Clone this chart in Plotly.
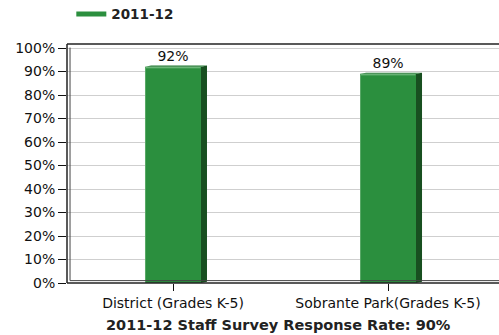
import plotly.graph_objects as go

categories = ["District (Grades K-5)", "Sobrante Park(Grades K-5)"]
values = [92, 89]
series_name = "2011-12"
title_text = "2011-12 Staff Survey Response Rate: 90%"
tick_vals = [0, 10, 20, 30, 40, 50, 60, 70, 80, 90, 100]
tick_text = [f"{v}%" for v in tick_vals]

FRONT = "#2b8f3e"
SIDE = "#184f20"
FONT = "DejaVu Sans"

fig = go.Figure()
fig.add_trace(go.Bar(
    x=[0, 1], y=values, width=0.26, marker=dict(color=FRONT, line=dict(width=0)),
    text=[f"{v}%" for v in values], textposition="outside",
    textfont=dict(family=FONT, size=14, color="#111"), cliponaxis=False,
    showlegend=False, hoverinfo="skip"))
fig.add_trace(go.Scatter(x=[None], y=[None], mode="lines", name=series_name,
                         line=dict(color=FRONT, width=5)))

# 3D side faces of bars
dx = 0.028
dy = 1.7
shapes = []
for i, v in enumerate(values):
    x1 = i + 0.13
    shapes.append(dict(type="path", xref="x", yref="y",
                       path=f"M {x1},0 L {x1+dx},{dy*0.3} L {x1+dx},{v+dy*0.3} L {x1},{v} Z",
                       fillcolor=SIDE, line=dict(width=0), layer="above"))
    shapes.append(dict(type="path", xref="x", yref="y",
                       path=f"M {i-0.13},{v} L {x1},{v} L {x1+dx},{v+dy*0.3} L {i-0.13+dx},{v+dy*0.3} Z",
                       fillcolor="#237a33", line=dict(width=0), layer="above"))
    shapes.append(dict(type="line", xref="x", yref="y", x0=i-0.128, x1=x1-0.002, y0=v-0.4, y1=v-0.4,
                       line=dict(color="#7fc28a", width=1), layer="above"))
    shapes.append(dict(type="line", xref="x", yref="y", x0=i-0.128, x1=i-0.128, y0=0, y1=v-0.4,
                       line=dict(color="#5aa867", width=1), layer="above"))

# frame lines
shapes += [
    dict(type="line", xref="paper", yref="paper", x0=0, x1=0, y0=0, y1=1, line=dict(color="#222", width=1.5)),
    dict(type="line", xref="paper", yref="paper", x0=0.007, x1=0.007, y0=0.01, y1=0.985, line=dict(color="#444", width=1)),
    dict(type="line", xref="paper", yref="paper", x0=0.0, x1=1, y0=1, y1=1, line=dict(color="#222", width=1.5)),
    dict(type="line", xref="paper", yref="paper", x0=0.0, x1=1, y0=0, y1=0, line=dict(color="#222", width=1.5)),
    dict(type="line", xref="paper", yref="paper", x0=0.007, x1=1, y0=0.01, y1=0.01, line=dict(color="#444", width=1)),
]

fig.update_layout(
    width=499, height=335,
    margin=dict(l=67, r=0, t=44, b=52, autoexpand=False),
    paper_bgcolor="white", plot_bgcolor="white",
    font=dict(family=FONT, size=14, color="#111"),
    shapes=shapes,
    showlegend=True,
    legend=dict(orientation="h", x=0.01, xanchor="left", y=1.125, yanchor="middle",
                font=dict(family=FONT, size=13.5, color="#222", weight="bold"),
                bgcolor="rgba(0,0,0,0)"),
    xaxis=dict(range=[-0.493, 1.516], tickvals=[0, 1], ticktext=categories,
               ticks="outside", ticklen=7, tickcolor="#111", showgrid=False,
               zeroline=False, showline=False, tickfont=dict(family=FONT, size=14, color="#111"),
               fixedrange=True, automargin=False),
    yaxis=dict(range=[0, 101.7], tickvals=tick_vals, ticktext=tick_text,
               ticks="outside", ticklen=8, tickcolor="#111", showgrid=True,
               gridcolor="#cfcfcf", gridwidth=1, zeroline=False, showline=False,
               tickfont=dict(family=FONT, size=14, color="#111"), fixedrange=True,
               automargin=False),
    annotations=[dict(text=f"<b>{title_text}</b>", xref="paper", yref="paper",
                      x=0.49, y=0, yshift=-42, xanchor="center", yanchor="middle",
                      showarrow=False, font=dict(family=FONT, size=14.5, color="#222"))],
)

fig.write_html("out.html")
